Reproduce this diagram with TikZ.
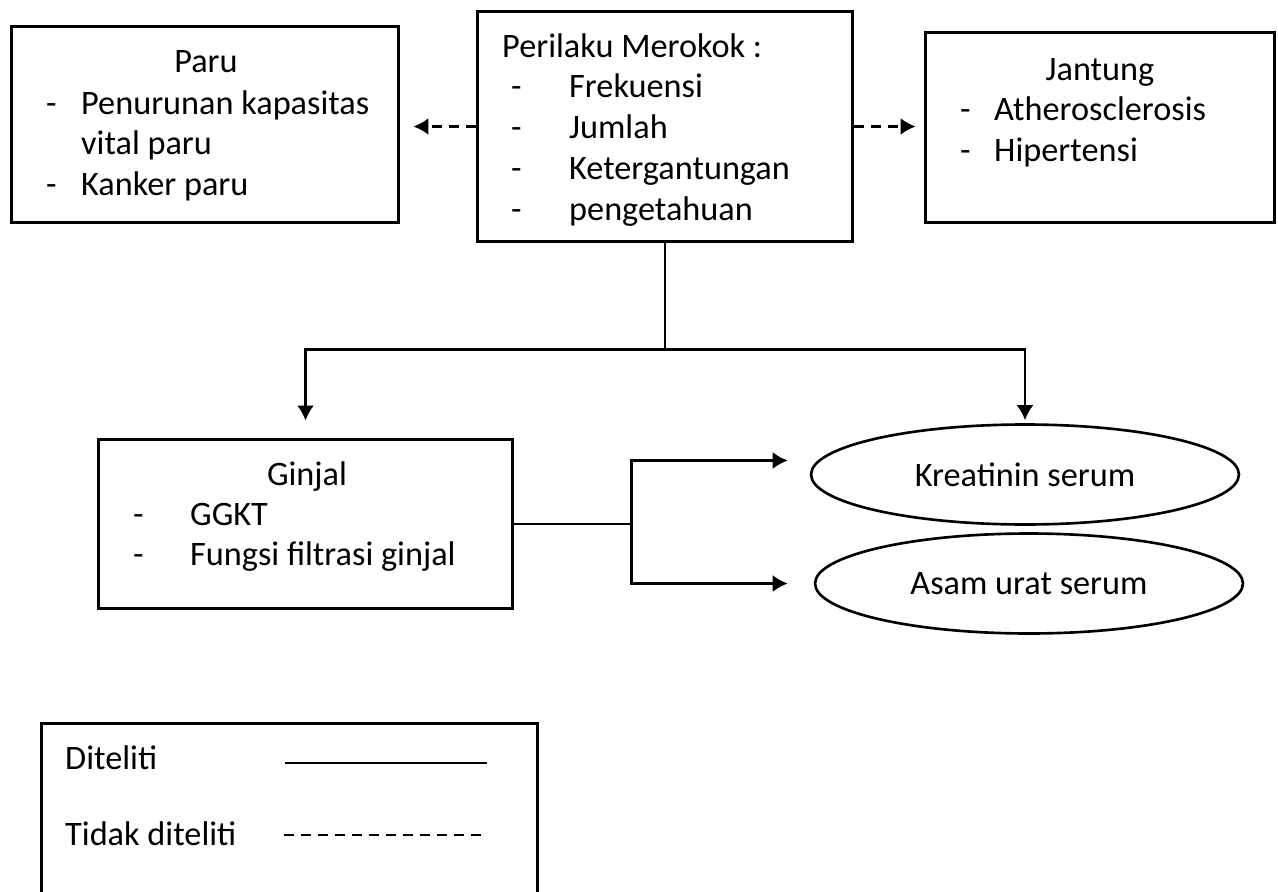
\documentclass[tikz,border=0pt]{standalone}
\usepackage{fontspec}
\setmainfont{Carlito}
\usetikzlibrary{arrows.meta,shapes.geometric}
\tikzset{box/.style={draw=black, line width=1.7pt, inner sep=0pt},
         oval/.style={ellipse, draw=black, line width=1.5pt, inner sep=0pt, minimum width=8.56cm, minimum height=2cm},
         txt/.style={inner sep=0pt, anchor=base west},
         notstudied/.style={dash pattern=on 0.2cm off 0.14cm}}

\begin{document}
\begin{tikzpicture}[x=0.02cm, y=-0.02cm, line width=1.4pt, >={Latex[length=0.3cm,width=0.34cm]}, font=\fontsize{19.5pt}{23.25pt}\selectfont]
\useasboundingbox (0,0) rectangle (1278,892);
\clip (0,0) rectangle (1278,892);

%boxes
\node[box, minimum width=7.76cm, minimum height=3.94cm] (paru)    at (205,124.5)  {};
\node[box, minimum width=7.52cm, minimum height=4.62cm] (rokok)   at (665,126.5)  {};
\node[box, minimum width=7.0cm,  minimum height=3.82cm] (jantung) at (1100,127.5) {};
\node[box, minimum width=8.3cm,  minimum height=3.4cm]  (ginjal)  at (305.5,524)  {};
\node[oval] (kreatinin) at (1025,474.5) {Kreatinin serum};
\node[oval] (asam)      at (1029,583.5) {Asam urat serum};
\node[box, minimum width=9.94cm, minimum height=4cm]    (legend)  at (289.5,823)  {};

%texts in the boxes
\node[inner sep=0pt, anchor=base] (parutitle) at (206,73) {Paru};
\node[txt] (parulist) at (45,114) {\begin{tabular}[t]{@{}l@{\hspace{0.49cm}}l@{}}
  - & Penurunan kapasitas\\ & vital paru\\ - & Kanker paru\end{tabular}};
\node[txt] (rokoktitle) at (501,58) {Perilaku Merokok :};
\node[txt] (rokoklist) at (510,98) {\begin{tabular}[t]{@{}l@{\hspace{0.95cm}}l@{}}
  - & Frekuensi\\ - & Jumlah\\ - & Ketergantungan\\ - & pengetahuan\end{tabular}};
\node[inner sep=0pt, anchor=base] (jantungtitle) at (1100,81) {Jantung};
\node[txt] (jantunglist) at (959,121) {\begin{tabular}[t]{@{}l@{\hspace{0.47cm}}l@{}}
  - & Atherosclerosis\\ - & Hipertensi\end{tabular}};
\node[inner sep=0pt, anchor=base] (ginjaltitle) at (307,485) {Ginjal};
\node[txt] (ginjallist) at (132,525) {\begin{tabular}[t]{@{}l@{\hspace{0.93cm}}l@{}}
  - & GGKT\\ - & Fungsi filtrasi ginjal\end{tabular}};

%dashed arrows
\draw[->, notstudied, shorten >=0.26cm] (rokok.west) -- (paru.east |- rokok.west);
\draw[->, notstudied, shorten >=0.16cm] (rokok.east) -- (jantung.west |- rokok.east);

%solid arrows
\coordinate (split) at ([yshift=-2.12cm]rokok.south);
\draw (rokok.south) -- (split);
\draw[->, shorten >=0.34cm] (split) -| (ginjal.north);
\draw[->, shorten >=0.06cm] (split) -| (kreatinin.north);
\coordinate (fork) at ([xshift=2.34cm]ginjal.east);
\draw (ginjal.east) -- (fork);
\draw[->, shorten >=0.44cm] (fork) |- ([yshift=0.28cm]kreatinin.west);
\draw[->, shorten >=0.52cm] (fork) |- (asam.west);

%legend
\node[txt] (studied) at (64,769) {Diteliti};
\node[txt] (notstudiedtxt) at (64,845) {Tidak diteliti};
\draw (285,763) -- (487,763);
\draw[notstudied] (284,835) -- (486,835);
\end{tikzpicture}
\end{document}
